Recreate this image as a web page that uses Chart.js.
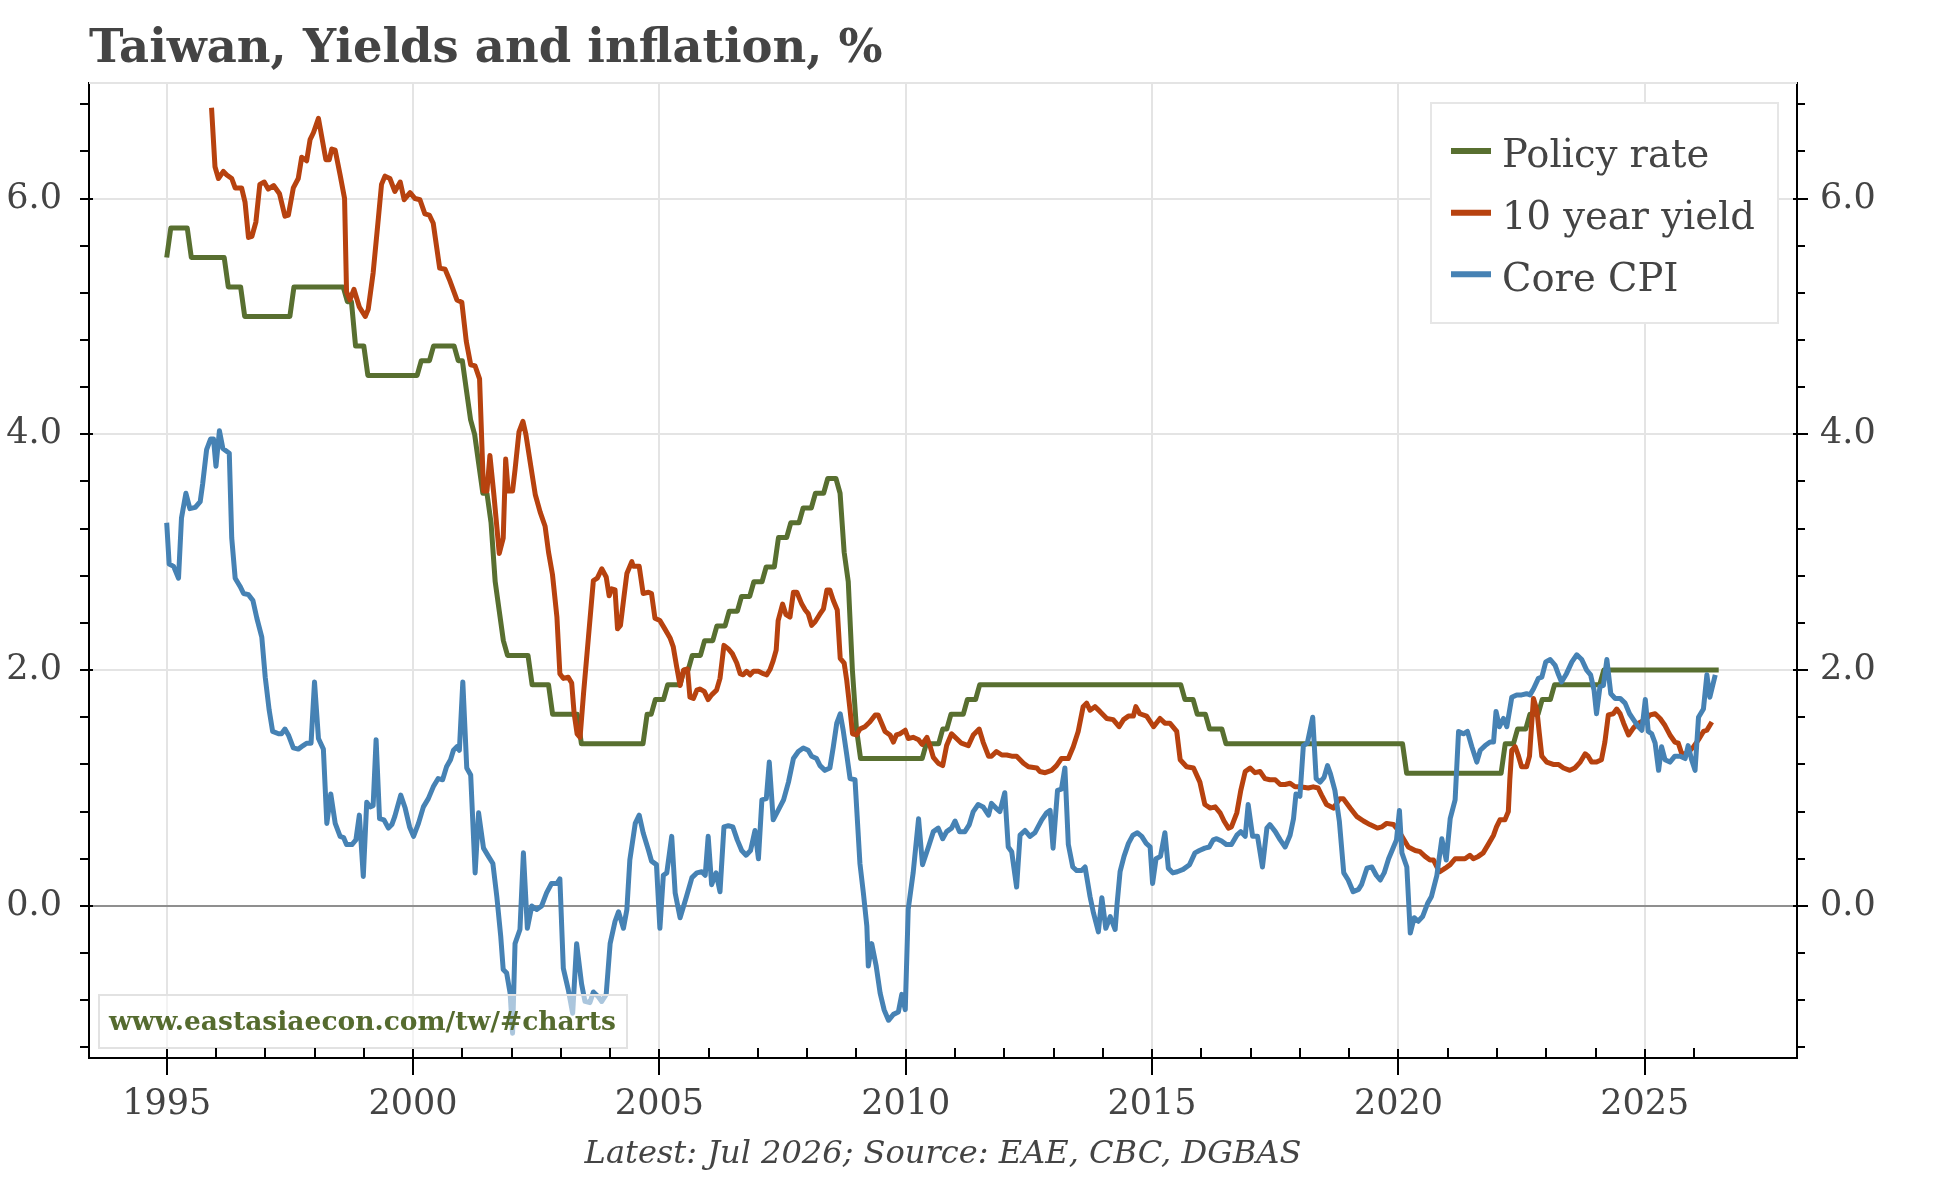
<!DOCTYPE html>
<html>
<head>
<meta charset="utf-8">
<script src="https://cdn.jsdelivr.net/npm/chart.js@4.4.1/dist/chart.umd.min.js"></script>
<style>
html,body{margin:0;padding:0;background:#fff;}
#wrap{width:1944px;height:1178px;position:relative;}
canvas{display:block;}
</style>
</head>
<body>
<div id="wrap"><canvas id="c" width="1944" height="1178"></canvas></div>
<script>
// ---------- DATA ----------
const titleText = 'Taiwan, Yields and inflation, %';
const footerText = 'Latest: Jul 2026; Source: EAE, CBC, DGBAS';
const watermarkText = 'www.eastasiaecon.com/tw/#charts';
const seriesNames = ['Policy rate', '10 year yield', 'Core CPI'];
const yearLabels = [1995, 2000, 2005, 2010, 2015, 2020, 2025];
const valueLabels = [0, 2, 4, 6];

const policyRate = [
[1995.000,5.5],[1995.083,5.75],[1995.417,5.75],[1995.500,5.5],[1996.167,5.5],[1996.250,5.25],[1996.500,5.25],[1996.583,5.0],
[1997.500,5.0],[1997.583,5.25],[1998.583,5.25],[1998.667,5.125],[1998.750,5.125],[1998.833,4.75],[1999.000,4.75],[1999.083,4.5],
[2000.083,4.5],[2000.167,4.625],[2000.333,4.625],[2000.417,4.75],[2000.833,4.75],[2000.917,4.625],[2001.000,4.625],[2001.083,4.375],
[2001.167,4.125],[2001.250,4.0],[2001.333,3.75],[2001.417,3.5],[2001.500,3.5],[2001.583,3.25],[2001.667,2.75],[2001.750,2.5],
[2001.833,2.25],[2001.917,2.125],[2002.333,2.125],[2002.417,1.875],[2002.750,1.875],[2002.833,1.625],[2003.333,1.625],[2003.417,1.375],
[2004.667,1.375],[2004.750,1.625],[2004.833,1.625],[2004.917,1.75],[2005.083,1.75],[2005.167,1.875],[2005.417,1.875],[2005.500,2.0],
[2005.583,2.0],[2005.667,2.125],[2005.833,2.125],[2005.917,2.25],[2006.083,2.25],[2006.167,2.375],[2006.333,2.375],[2006.417,2.5],
[2006.583,2.5],[2006.667,2.625],[2006.833,2.625],[2006.917,2.75],[2007.083,2.75],[2007.167,2.875],[2007.333,2.875],[2007.417,3.125],
[2007.583,3.125],[2007.667,3.25],[2007.833,3.25],[2007.917,3.375],[2008.083,3.375],[2008.167,3.5],[2008.333,3.5],[2008.417,3.625],
[2008.583,3.625],[2008.667,3.5],[2008.750,3.0],[2008.833,2.75],[2008.917,2.0],[2009.000,1.5],[2009.083,1.25],[2010.333,1.25],
[2010.417,1.375],[2010.667,1.375],[2010.750,1.5],[2010.833,1.5],[2010.917,1.625],[2011.167,1.625],[2011.250,1.75],[2011.417,1.75],
[2011.500,1.875],[2015.583,1.875],[2015.667,1.75],[2015.833,1.75],[2015.917,1.625],[2016.083,1.625],[2016.167,1.5],[2016.417,1.5],
[2016.500,1.375],[2020.083,1.375],[2020.167,1.125],[2022.083,1.125],[2022.167,1.375],[2022.333,1.375],[2022.417,1.5],[2022.583,1.5],
[2022.667,1.625],[2022.833,1.625],[2022.917,1.75],[2023.083,1.75],[2023.167,1.875],[2024.083,1.875],[2024.167,2.0],[2026.500,2.0]
];

const tenYearYield = [
[1995.91,6.77],[1995.98,6.27],[1996.05,6.17],[1996.15,6.23],[1996.22,6.20],[1996.32,6.17],[1996.39,6.09],[1996.52,6.09],[1996.59,5.97],[1996.66,5.67],
[1996.73,5.68],[1996.81,5.80],[1996.89,6.12],[1996.98,6.14],[1997.06,6.08],[1997.17,6.11],[1997.29,6.04],[1997.40,5.85],[1997.47,5.86],[1997.57,6.09],
[1997.67,6.17],[1997.74,6.35],[1997.84,6.32],[1997.91,6.50],[1997.98,6.56],[1998.08,6.68],[1998.23,6.33],[1998.30,6.33],[1998.35,6.42],[1998.42,6.41],
[1998.52,6.20],[1998.61,6.00],[1998.65,5.21],[1998.72,5.14],[1998.80,5.23],[1998.91,5.08],[1999.03,5.00],[1999.09,5.06],[1999.19,5.37],[1999.30,5.85],
[1999.36,6.12],[1999.43,6.19],[1999.53,6.17],[1999.63,6.06],[1999.74,6.14],[1999.82,5.99],[1999.94,6.05],[2000.04,6.00],[2000.14,5.99],[2000.24,5.87],
[2000.33,5.86],[2000.41,5.79],[2000.54,5.41],[2000.65,5.40],[2000.75,5.30],[2000.89,5.14],[2000.99,5.12],[2001.08,4.79],[2001.17,4.59],[2001.26,4.58],
[2001.35,4.47],[2001.43,3.52],[2001.50,3.52],[2001.56,3.82],[2001.64,3.49],[2001.75,2.99],[2001.83,3.12],[2001.88,3.79],[2001.93,3.52],[2002.02,3.52],
[2002.07,3.70],[2002.15,4.02],[2002.23,4.11],[2002.29,4.00],[2002.39,3.73],[2002.48,3.49],[2002.58,3.34],[2002.68,3.22],[2002.75,3.00],[2002.83,2.81],
[2002.92,2.45],[2002.98,1.97],[2003.05,1.93],[2003.15,1.94],[2003.22,1.89],[2003.27,1.63],[2003.33,1.46],[2003.39,1.43],[2003.46,1.80],[2003.56,2.28],
[2003.66,2.76],[2003.74,2.78],[2003.83,2.86],[2003.92,2.79],[2003.98,2.63],[2004.03,2.69],[2004.10,2.68],[2004.15,2.35],[2004.21,2.38],[2004.28,2.62],
[2004.34,2.82],[2004.44,2.92],[2004.47,2.88],[2004.59,2.88],[2004.67,2.65],[2004.78,2.66],[2004.84,2.65],[2004.91,2.44],[2005.01,2.42],[2005.11,2.35],
[2005.22,2.27],[2005.28,2.20],[2005.35,2.03],[2005.42,1.87],[2005.49,2.00],[2005.57,2.01],[2005.62,1.77],[2005.69,1.76],[2005.76,1.83],[2005.82,1.84],
[2005.91,1.82],[2005.99,1.75],[2006.06,1.79],[2006.16,1.83],[2006.23,1.93],[2006.31,2.21],[2006.40,2.18],[2006.48,2.14],[2006.57,2.06],[2006.64,1.97],
[2006.70,1.96],[2006.77,1.99],[2006.84,1.96],[2006.91,1.99],[2007.01,1.99],[2007.11,1.97],[2007.18,1.96],[2007.25,2.01],[2007.31,2.08],[2007.37,2.17],
[2007.41,2.42],[2007.50,2.56],[2007.57,2.47],[2007.65,2.45],[2007.72,2.66],[2007.79,2.66],[2007.89,2.56],[2007.96,2.51],[2008.02,2.48],[2008.09,2.38],
[2008.16,2.41],[2008.25,2.47],[2008.33,2.52],[2008.40,2.68],[2008.46,2.68],[2008.53,2.59],[2008.61,2.51],[2008.67,2.10],[2008.75,2.06],[2008.80,1.92],
[2008.87,1.66],[2008.92,1.46],[2009.00,1.45],[2009.07,1.50],[2009.17,1.52],[2009.27,1.56],[2009.38,1.62],[2009.44,1.62],[2009.51,1.55],[2009.58,1.48],
[2009.68,1.45],[2009.75,1.39],[2009.81,1.45],[2009.88,1.46],[2009.99,1.49],[2010.05,1.42],[2010.15,1.43],[2010.26,1.41],[2010.33,1.37],[2010.43,1.43],
[2010.49,1.36],[2010.56,1.26],[2010.66,1.21],[2010.75,1.19],[2010.83,1.36],[2010.93,1.46],[2011.03,1.42],[2011.13,1.38],[2011.27,1.36],[2011.37,1.45],
[2011.49,1.50],[2011.57,1.39],[2011.68,1.27],[2011.74,1.27],[2011.84,1.31],[2011.95,1.28],[2012.05,1.28],[2012.15,1.27],[2012.25,1.27],[2012.39,1.21],
[2012.49,1.18],[2012.66,1.17],[2012.72,1.14],[2012.83,1.13],[2012.96,1.15],[2013.06,1.19],[2013.16,1.25],[2013.30,1.25],[2013.40,1.35],[2013.50,1.48],
[2013.60,1.69],[2013.67,1.72],[2013.74,1.66],[2013.84,1.69],[2013.94,1.65],[2014.08,1.59],[2014.21,1.58],[2014.33,1.52],[2014.42,1.58],[2014.52,1.61],
[2014.62,1.61],[2014.67,1.69],[2014.75,1.63],[2014.89,1.61],[2015.03,1.52],[2015.16,1.59],[2015.26,1.55],[2015.36,1.55],[2015.50,1.48],[2015.57,1.24],
[2015.70,1.18],[2015.84,1.17],[2015.97,1.05],[2016.07,0.86],[2016.18,0.83],[2016.28,0.84],[2016.38,0.79],[2016.46,0.72],[2016.55,0.66],[2016.61,0.67],
[2016.72,0.79],[2016.80,0.98],[2016.89,1.14],[2016.99,1.17],[2017.09,1.13],[2017.19,1.14],[2017.29,1.08],[2017.39,1.07],[2017.50,1.07],[2017.60,1.03],
[2017.70,1.03],[2017.80,1.04],[2017.90,1.01],[2018.00,1.01],[2018.17,1.00],[2018.27,1.01],[2018.37,1.00],[2018.44,0.94],[2018.54,0.86],[2018.68,0.83],
[2018.81,0.91],[2018.88,0.91],[2019.02,0.83],[2019.15,0.76],[2019.29,0.72],[2019.42,0.69],[2019.57,0.66],[2019.66,0.67],[2019.76,0.70],[2019.90,0.69],
[2020.00,0.64],[2020.10,0.57],[2020.20,0.50],[2020.34,0.47],[2020.44,0.46],[2020.54,0.42],[2020.64,0.39],[2020.71,0.39],[2020.78,0.33],[2020.84,0.29],
[2020.95,0.32],[2021.05,0.35],[2021.15,0.40],[2021.25,0.40],[2021.35,0.40],[2021.45,0.43],[2021.52,0.40],[2021.62,0.42],[2021.72,0.45],[2021.82,0.52],
[2021.93,0.60],[2021.99,0.67],[2022.06,0.73],[2022.16,0.73],[2022.23,0.80],[2022.26,1.07],[2022.30,1.32],[2022.37,1.35],[2022.43,1.28],[2022.50,1.18],
[2022.60,1.18],[2022.66,1.27],[2022.70,1.52],[2022.74,1.76],[2022.81,1.66],[2022.86,1.46],[2022.91,1.27],[2023.01,1.22],[2023.14,1.20],[2023.25,1.20],
[2023.35,1.17],[2023.48,1.15],[2023.58,1.17],[2023.69,1.22],[2023.79,1.29],[2023.85,1.27],[2023.92,1.22],[2024.02,1.22],[2024.12,1.24],[2024.19,1.39],
[2024.26,1.62],[2024.36,1.63],[2024.43,1.67],[2024.50,1.63],[2024.57,1.55],[2024.67,1.45],[2024.77,1.51],[2024.87,1.55],[2025.01,1.58],[2025.11,1.62],
[2025.21,1.63],[2025.31,1.59],[2025.41,1.53],[2025.51,1.45],[2025.61,1.39],[2025.68,1.38],[2025.75,1.29],[2025.85,1.29],[2025.99,1.35],[2026.09,1.41],
[2026.19,1.48],[2026.26,1.49],[2026.36,1.56]
];

const coreCPI = [
[1995.00,3.25],[1995.05,2.90],[1995.14,2.88],[1995.24,2.78],[1995.30,3.29],[1995.39,3.50],[1995.47,3.37],[1995.58,3.38],[1995.68,3.43],[1995.73,3.58],
[1995.81,3.87],[1995.89,3.96],[1995.95,3.96],[1996.00,3.73],[1996.07,4.03],[1996.14,3.88],[1996.27,3.84],[1996.32,3.12],[1996.39,2.78],[1996.49,2.71],
[1996.56,2.65],[1996.66,2.64],[1996.75,2.59],[1996.83,2.44],[1996.93,2.28],[1997.00,1.94],[1997.08,1.66],[1997.15,1.48],[1997.27,1.46],[1997.33,1.46],
[1997.40,1.50],[1997.47,1.45],[1997.57,1.34],[1997.67,1.33],[1997.77,1.36],[1997.84,1.38],[1997.93,1.38],[1998.00,1.90],[1998.08,1.42],[1998.18,1.33],
[1998.25,0.70],[1998.33,0.95],[1998.42,0.70],[1998.52,0.59],[1998.59,0.58],[1998.65,0.52],[1998.76,0.52],[1998.84,0.56],[1998.91,0.77],[1998.99,0.25],
[1999.06,0.88],[1999.13,0.84],[1999.19,0.85],[1999.25,1.41],[1999.32,0.74],[1999.41,0.73],[1999.50,0.66],[1999.57,0.69],[1999.63,0.76],[1999.75,0.94],
[1999.84,0.83],[1999.93,0.67],[2000.01,0.59],[2000.11,0.70],[2000.21,0.84],[2000.31,0.91],[2000.41,1.01],[2000.51,1.08],[2000.60,1.07],[2000.68,1.18],
[2000.76,1.24],[2000.82,1.32],[2000.89,1.35],[2000.94,1.32],[2001.01,1.90],[2001.09,1.17],[2001.17,1.11],[2001.26,0.28],[2001.33,0.79],[2001.43,0.49],
[2001.53,0.42],[2001.62,0.36],[2001.70,0.08],[2001.78,-0.26],[2001.83,-0.54],[2001.90,-0.57],[2001.97,-0.74],[2002.02,-1.08],[2002.07,-0.32],[2002.17,-0.20],
[2002.24,0.45],[2002.32,-0.19],[2002.41,0.00],[2002.51,-0.03],[2002.61,0.00],[2002.71,0.11],[2002.81,0.19],[2002.92,0.19],[2002.98,0.23],[2003.05,-0.53],
[2003.15,-0.71],[2003.24,-0.91],[2003.32,-0.32],[2003.42,-0.66],[2003.49,-0.81],[2003.59,-0.82],[2003.66,-0.73],[2003.76,-0.77],[2003.83,-0.81],[2003.92,-0.75],
[2004.00,-0.32],[2004.10,-0.13],[2004.17,-0.05],[2004.27,-0.19],[2004.34,-0.03],[2004.40,0.39],[2004.51,0.70],[2004.59,0.77],[2004.67,0.62],[2004.78,0.47],
[2004.84,0.38],[2004.94,0.35],[2005.01,-0.19],[2005.08,0.26],[2005.15,0.28],[2005.25,0.59],[2005.32,0.11],[2005.42,-0.10],[2005.55,0.08],[2005.66,0.24],
[2005.76,0.28],[2005.86,0.29],[2005.93,0.26],[2005.99,0.59],[2006.06,0.18],[2006.15,0.28],[2006.23,0.12],[2006.31,0.67],[2006.40,0.68],[2006.49,0.67],
[2006.58,0.56],[2006.67,0.47],[2006.76,0.43],[2006.85,0.47],[2006.94,0.64],[2007.01,0.40],[2007.08,0.90],[2007.17,0.91],[2007.23,1.22],[2007.31,0.73],
[2007.41,0.81],[2007.52,0.90],[2007.62,1.05],[2007.72,1.25],[2007.82,1.31],[2007.92,1.34],[2008.02,1.32],[2008.09,1.27],[2008.19,1.25],[2008.26,1.19],
[2008.36,1.15],[2008.46,1.17],[2008.53,1.35],[2008.60,1.55],[2008.67,1.63],[2008.73,1.49],[2008.80,1.29],[2008.87,1.08],[2008.97,1.07],[2009.07,0.36],
[2009.14,0.11],[2009.21,-0.17],[2009.24,-0.51],[2009.31,-0.32],[2009.40,-0.51],[2009.48,-0.74],[2009.56,-0.88],[2009.65,-0.97],[2009.75,-0.92],[2009.85,-0.90],
[2009.92,-0.75],[2009.99,-0.88],[2010.05,-0.03],[2010.15,0.28],[2010.26,0.74],[2010.34,0.35],[2010.46,0.50],[2010.56,0.63],[2010.66,0.66],[2010.75,0.57],
[2010.83,0.63],[2010.93,0.66],[2011.00,0.72],[2011.09,0.63],[2011.20,0.63],[2011.29,0.69],[2011.37,0.80],[2011.47,0.86],[2011.57,0.84],[2011.68,0.77],
[2011.74,0.87],[2011.83,0.83],[2011.91,0.80],[2012.01,0.96],[2012.08,0.50],[2012.15,0.46],[2012.25,0.16],[2012.32,0.60],[2012.42,0.64],[2012.52,0.59],
[2012.62,0.62],[2012.76,0.73],[2012.86,0.79],[2012.93,0.81],[2012.99,0.49],[2013.08,0.98],[2013.16,0.99],[2013.23,1.17],[2013.30,0.52],[2013.39,0.33],
[2013.47,0.30],[2013.57,0.30],[2013.64,0.33],[2013.74,0.08],[2013.81,-0.06],[2013.91,-0.22],[2013.98,0.07],[2014.06,-0.19],[2014.15,-0.09],[2014.25,-0.20],
[2014.29,0.02],[2014.35,0.29],[2014.43,0.42],[2014.52,0.53],[2014.61,0.60],[2014.70,0.62],[2014.79,0.59],[2014.88,0.53],[2014.96,0.50],[2015.01,0.19],
[2015.08,0.40],[2015.17,0.42],[2015.26,0.62],[2015.33,0.32],[2015.42,0.28],[2015.51,0.29],[2015.63,0.31],[2015.76,0.35],[2015.87,0.45],[2015.96,0.47],
[2016.07,0.49],[2016.16,0.50],[2016.24,0.56],[2016.31,0.57],[2016.41,0.55],[2016.51,0.52],[2016.61,0.52],[2016.72,0.60],[2016.80,0.63],[2016.89,0.59],
[2016.95,0.86],[2017.04,0.59],[2017.14,0.59],[2017.24,0.33],[2017.33,0.66],[2017.39,0.69],[2017.50,0.63],[2017.60,0.56],[2017.70,0.50],[2017.80,0.60],
[2017.87,0.74],[2017.92,0.95],[2018.00,0.93],[2018.07,1.36],[2018.15,1.38],[2018.26,1.60],[2018.33,1.08],[2018.41,1.05],[2018.49,1.09],[2018.56,1.19],
[2018.62,1.12],[2018.71,0.98],[2018.80,0.72],[2018.89,0.28],[2018.98,0.22],[2019.08,0.12],[2019.19,0.14],[2019.25,0.18],[2019.36,0.32],[2019.46,0.33],
[2019.55,0.26],[2019.63,0.22],[2019.71,0.28],[2019.80,0.40],[2019.90,0.50],[2019.96,0.56],[2020.02,0.81],[2020.07,0.45],[2020.17,0.33],[2020.24,-0.23],
[2020.32,-0.10],[2020.40,-0.13],[2020.49,-0.09],[2020.59,0.02],[2020.67,0.08],[2020.78,0.26],[2020.88,0.57],[2020.97,0.39],[2021.05,0.74],[2021.15,0.90],
[2021.22,1.48],[2021.32,1.46],[2021.40,1.48],[2021.49,1.35],[2021.59,1.22],[2021.66,1.32],[2021.76,1.36],[2021.86,1.39],[2021.93,1.39],[2021.98,1.65],
[2022.05,1.52],[2022.13,1.59],[2022.20,1.52],[2022.30,1.77],[2022.40,1.79],[2022.50,1.79],[2022.60,1.80],[2022.67,1.79],[2022.74,1.84],[2022.84,1.93],
[2022.91,1.94],[2022.99,2.07],[2023.08,2.09],[2023.18,2.04],[2023.25,1.96],[2023.31,1.90],[2023.41,1.97],[2023.52,2.07],[2023.62,2.13],[2023.72,2.09],
[2023.82,2.00],[2023.90,1.96],[2023.97,1.83],[2024.02,1.63],[2024.09,1.86],[2024.16,1.87],[2024.23,2.09],[2024.31,1.80],[2024.40,1.76],[2024.50,1.76],
[2024.60,1.72],[2024.69,1.63],[2024.77,1.58],[2024.87,1.52],[2024.94,1.49],[2025.01,1.75],[2025.07,1.48],[2025.14,1.46],[2025.21,1.38],[2025.28,1.15],
[2025.34,1.35],[2025.41,1.24],[2025.51,1.22],[2025.61,1.27],[2025.72,1.27],[2025.82,1.25],[2025.88,1.36],[2025.95,1.24],[2026.02,1.15],[2026.09,1.60],
[2026.19,1.67],[2026.26,1.96],[2026.32,1.77],[2026.43,1.96]
];

// ---------- STYLE ----------
const COLORS = ['#586f30', '#b7420f', '#4682b4'];
const SERIF = "'DejaVu Serif', serif";
const TEXT = '#444444';
const TICK_FONT = 35;
const isMult = (v, m) => Math.abs(v / m - Math.round(v / m)) < 1e-6;

function fitFont(ctx, text, style, weight, target) {
  ctx.font = `${style} ${weight} 100px ${SERIF}`;
  const w = ctx.measureText(text).width;
  return 100 * target / w;
}

const decor = {
  id: 'decor',
  beforeDatasetsDraw(chart) {
    const ctx = chart.ctx, a = chart.chartArea;
    ctx.save();
    ctx.strokeStyle = '#e4e4e4';
    ctx.lineWidth = 2;
    ctx.beginPath();
    ctx.moveTo(a.left, a.top);
    ctx.lineTo(a.right, a.top);
    ctx.stroke();
    ctx.restore();
  },
  afterDatasetsDraw(chart) {
    const ctx = chart.ctx;
    ctx.save();
    ctx.fillStyle = 'rgba(255,255,255,0.55)';
    ctx.fillRect(99, 995, 528, 53);
    ctx.strokeStyle = '#e2e2e2';
    ctx.lineWidth = 2;
    ctx.strokeRect(99, 995, 528, 53);
    const s = fitFont(ctx, watermarkText, 'normal', 'bold', 507);
    ctx.font = `normal bold ${s}px ${SERIF}`;
    ctx.fillStyle = '#556b2f';
    ctx.textBaseline = 'alphabetic';
    ctx.textAlign = 'left';
    ctx.fillText(watermarkText, 109, 1030);
    ctx.restore();
  },
  afterDraw(chart) {
    const ctx = chart.ctx, a = chart.chartArea;
    const xs = chart.scales.x, ys = chart.scales.y;
    ctx.save();
    ctx.strokeStyle = '#000';
    ctx.lineWidth = 2;
    ys.ticks.forEach(t => {
      const p = Math.round(ys.getPixelForValue(t.value));
      const major = valueLabels.some(m => Math.abs(m - t.value) < 1e-6);
      ctx.beginPath();
      ctx.moveTo(a.left - 9, p); ctx.lineTo(major ? a.left + 4 : a.left, p);
      ctx.moveTo(major ? a.right - 4 : a.right, p); ctx.lineTo(a.right + (major ? 11 : 8), p);
      ctx.stroke();
    });
    xs.ticks.forEach(t => {
      if (t.value < 1995 || t.value > 2026) return;
      const p = Math.round(xs.getPixelForValue(t.value));
      const major = yearLabels.includes(t.value);
      ctx.beginPath();
      if (major) { ctx.moveTo(p, a.bottom - 9); ctx.lineTo(p, a.bottom + 17); }
      else { ctx.moveTo(p, a.bottom - 10); ctx.lineTo(p, a.bottom); }
      ctx.stroke();
    });
    ctx.restore();

    // legend
    ctx.save();
    ctx.fillStyle = '#fff';
    ctx.fillRect(1431, 103, 347, 220);
    ctx.strokeStyle = '#e6e6e6';
    ctx.lineWidth = 2;
    ctx.strokeRect(1431, 103, 347, 220);
    const ls = fitFont(ctx, seriesNames[1], 'normal', 'normal', 253);
    ctx.font = `normal normal ${ls}px ${SERIF}`;
    ctx.textAlign = 'left';
    ctx.textBaseline = 'alphabetic';
    const rowY = [151, 212.7, 274.3];
    const baseY = [167, 228.5, 290.5];
    chart.data.datasets.forEach((ds, i) => {
      ctx.strokeStyle = ds.borderColor;
      ctx.lineWidth = 6;
      ctx.beginPath();
      ctx.moveTo(1451, rowY[i]); ctx.lineTo(1491, rowY[i]);
      ctx.stroke();
      ctx.fillStyle = TEXT;
      ctx.fillText(ds.label, 1502, baseY[i]);
    });
    ctx.restore();

    // title and footer
    ctx.save();
    const ts = fitFont(ctx, titleText, 'normal', 'bold', 794);
    ctx.font = `normal bold ${ts}px ${SERIF}`;
    ctx.fillStyle = TEXT;
    ctx.textAlign = 'left';
    ctx.textBaseline = 'alphabetic';
    ctx.fillText(titleText, 89, 62);
    const fs = fitFont(ctx, footerText, 'italic', 'normal', 717);
    ctx.font = `italic normal ${fs}px ${SERIF}`;
    ctx.textAlign = 'center';
    ctx.fillText(footerText, (a.left + a.right) / 2, 1163);
    ctx.restore();
  }
};

const mk = (i, data, order) => ({
  label: seriesNames[i],
  data: data,
  borderColor: COLORS[i],
  backgroundColor: COLORS[i],
  borderWidth: 5,
  pointRadius: 0,
  pointHoverRadius: 0,
  tension: 0,
  fill: false,
  borderJoinStyle: 'round',
  order: order
});

const yTicks = {
  stepSize: 0.4,
  includeBounds: false,
  autoSkip: false,
  color: TEXT,
  font: { family: SERIF, size: TICK_FONT },
  callback: v => valueLabels.some(m => Math.abs(m - v) < 1e-6) ? Number(v).toFixed(1) : ''
};

new Chart(document.getElementById('c'), {
  type: 'line',
  data: {
    datasets: [mk(0, policyRate, 3), mk(1, tenYearYield, 2), mk(2, coreCPI, 1)]
  },
  options: {
    responsive: false,
    animation: false,
    devicePixelRatio: 1,
    layout: { padding: { top: 83, left: 0, right: 0, bottom: 0 } },
    plugins: { legend: { display: false }, title: { display: false }, tooltip: { enabled: false } },
    scales: {
      x: {
        type: 'linear', position: 'bottom',
        min: 1993.423, max: 2028.089,
        afterFit: s => { s.height = 120; },
        ticks: {
          stepSize: 1, includeBounds: false, autoSkip: false, maxRotation: 0, minRotation: 0,
          padding: 26, color: TEXT, font: { family: SERIF, size: TICK_FONT },
          callback: v => yearLabels.includes(v) ? String(v) : ''
        },
        grid: {
          drawTicks: false,
          lineWidth: 2,
          color: c => (c.tick && yearLabels.includes(c.tick.value)) ? '#e4e4e4' : 'rgba(0,0,0,0)'
        },
        border: { display: true, color: '#000', width: 2 }
      },
      y: {
        type: 'linear', position: 'left',
        min: -1.29, max: 6.98,
        afterFit: s => { s.width = 89; },
        ticks: Object.assign({}, yTicks, { padding: 27 }),
        grid: {
          drawTicks: false,
          lineWidth: 2,
          color: c => {
            if (!c.tick) return 'rgba(0,0,0,0)';
            const v = c.tick.value;
            if (Math.abs(v) < 1e-6) return '#8f8f8f';
            return isMult(v, 2) ? '#e4e4e4' : 'rgba(0,0,0,0)';
          }
        },
        border: { display: true, color: '#000', width: 2 }
      },
      y2: {
        type: 'linear', position: 'right',
        min: -1.29, max: 6.98,
        afterFit: s => { s.width = 147; },
        ticks: Object.assign({}, yTicks, { padding: 23 }),
        grid: { drawOnChartArea: false, drawTicks: false },
        border: { display: true, color: '#000', width: 2 }
      }
    }
  },
  plugins: [decor]
});
</script>
</body>
</html>
